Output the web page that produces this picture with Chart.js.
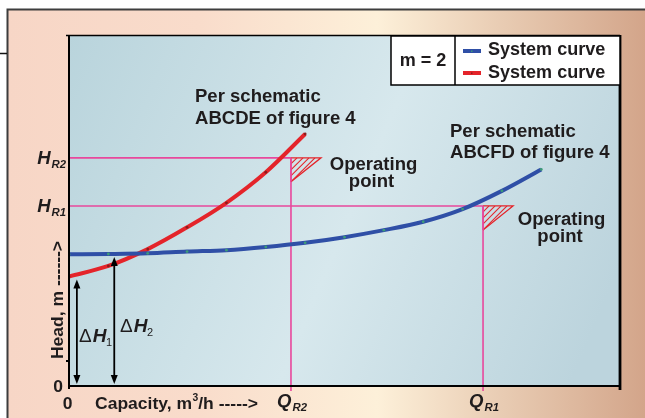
<!DOCTYPE html>
<html>
<head>
<meta charset="utf-8">
<title>System curves</title>
<script src="https://cdn.jsdelivr.net/npm/chart.js@4/dist/chart.umd.min.js"></script>
<style>
  html, body { margin: 0; padding: 0; background: #ffffff; overflow: hidden; }
  #wrap { width: 645px; height: 418px; }
</style>
</head>
<body>
<div id="wrap"><canvas id="c" width="645" height="418"></canvas></div>
<script>
// Capacity steps along the x axis (arbitrary units, 0 .. 14)
const capacitySteps = [0, 1, 2, 3, 4, 5, 6, 7, 8, 9, 10, 11, 12];
// Head of the system curve for schematic ABCFD (blue)
const headABCFD = [37.5, 37.6, 37.8, 38.3, 38.7, 39.6, 40.8, 42.4, 44.4, 46.8, 50.4, 55.6, 61.7];
// Head of the system curve for schematic ABCDE (red)
const headABCDE = [31.2, 34.2, 39.0, 45.2, 52.2, 60.9, 71.8];
// Operating points: heads H_R1, H_R2 and capacities Q_R1, Q_R2
const operatingNames = ['R1', 'R2'];
const operatingHeads = [51.3, 65.0];
const operatingFlows = [10.52, 5.64];
// Static head arrows ΔH1 (to the red curve) and ΔH2 (to the blue curve)
const deltaNames = ['1', '2'];
const deltaFlows = [0.2, 1.15];
const deltaHeads = [headABCDE[0], headABCFD[1]];
// Axis ranges
const xRange = [0, 14];
const yRange = [0, 100];
const seriesLabels = ['System curve', 'System curve'];

const BLUE = '#2f4fa6';
const RED = '#e4242a';
const PINK = '#e8489c';
const INK = '#1f1c1d';
const FONT = '"Liberation Sans", Arial, Helvetica, sans-serif';

function txt(ctx, str, x, y, o) {
  o = o || {};
  const size = o.size || 18;
  const stretch = o.stretch || 1.03;
  ctx.save();
  ctx.font = (o.style || '') + ' ' + (o.weight || 'bold') + ' ' + size + 'px ' + FONT;
  ctx.fillStyle = o.color || INK;
  ctx.textBaseline = 'alphabetic';
  ctx.textAlign = 'left';
  const w = ctx.measureText(str).width * stretch;
  let x0 = x;
  if (o.align === 'center') x0 = x - w / 2;
  else if (o.align === 'right') x0 = x - w;
  ctx.translate(x0, y);
  ctx.scale(stretch, 1);
  ctx.fillText(str, 0, 0);
  ctx.restore();
  return w;
}
function measure(ctx, str, o) {
  ctx.save();
  ctx.font = (o.style || '') + ' ' + (o.weight || 'bold') + ' ' + o.size + 'px ' + FONT;
  const w = ctx.measureText(str).width * (o.stretch || 1.03);
  ctx.restore();
  return w;
}
// Symbol with italic subscript, e.g. H with R1
function subLabel(ctx, main, sub, x, y, align, mainSize) {
  const mo = { size: mainSize || 18, style: 'italic' };
  const so = { size: 11, style: 'italic' };
  const w = measure(ctx, main, mo) + 1 + measure(ctx, sub, so);
  let x0 = x;
  if (align === 'center') x0 = x - w / 2;
  else if (align === 'right') x0 = x - w;
  const mw = txt(ctx, main, x0, y, mo);
  txt(ctx, sub, x0 + mw + 1, y + 4, so);
}
function arrowHead(ctx, x, y, dir) {
  ctx.beginPath();
  ctx.moveTo(x, y);
  ctx.lineTo(x - 3.5, y - dir * 9);
  ctx.lineTo(x + 3.5, y - dir * 9);
  ctx.closePath();
  ctx.fill();
}

const decor = {
  id: 'decor',
  beforeDraw(chart) {
    const ctx = chart.ctx;
    const a = chart.chartArea;
    ctx.save();
    ctx.fillStyle = '#ffffff';
    ctx.fillRect(0, 0, chart.width, chart.height);
    // outer panel
    const g = ctx.createLinearGradient(8, 0, chart.width, 0);
    g.addColorStop(0, '#f7d6c6');
    g.addColorStop(0.3, '#f9dccb');
    g.addColorStop(0.58, '#fdf0d9');
    g.addColorStop(0.78, '#e8cbb2');
    g.addColorStop(1, '#d3a58a');
    ctx.fillStyle = g;
    ctx.fillRect(8, 10, chart.width - 8, chart.height - 10);
    ctx.strokeStyle = '#3d3d3d';
    ctx.lineWidth = 2;
    ctx.beginPath();
    ctx.moveTo(7.5, chart.height);
    ctx.lineTo(7.5, 9.5);
    ctx.lineTo(chart.width, 9.5);
    ctx.stroke();
    ctx.lineWidth = 1.5;
    ctx.strokeStyle = '#111';
    ctx.beginPath();
    ctx.moveTo(0, 53.5);
    ctx.lineTo(7, 53.5);
    ctx.stroke();
    // plot area
    const pg = ctx.createLinearGradient(a.left, a.top, a.right, a.bottom - 120);
    pg.addColorStop(0, '#b9d4dc');
    pg.addColorStop(0.55, '#d7e8ed');
    pg.addColorStop(1, '#bcd4dd');
    ctx.fillStyle = pg;
    ctx.fillRect(a.left, a.top, a.right - a.left, a.bottom - a.top);
    ctx.restore();
  },
  beforeDatasetsDraw(chart) {
    const ctx = chart.ctx;
    const a = chart.chartArea;
    const xs = chart.scales.x, ys = chart.scales.y;
    ctx.save();
    operatingHeads.forEach((h, i) => {
      const px = xs.getPixelForValue(operatingFlows[i]);
      const py = ys.getPixelForValue(h);
      ctx.strokeStyle = PINK;
      ctx.lineWidth = 1.6;
      ctx.beginPath();
      ctx.moveTo(a.left, py);
      ctx.lineTo(px, py);
      ctx.moveTo(px, py);
      ctx.lineTo(px, a.bottom + 5);
      ctx.stroke();
      // hatched operating-point wedge
      const w = 30, hh = 24;
      ctx.save();
      ctx.beginPath();
      ctx.moveTo(px, py);
      ctx.lineTo(px + w, py);
      ctx.lineTo(px, py + hh);
      ctx.closePath();
      ctx.clip();
      ctx.strokeStyle = RED;
      ctx.lineWidth = 1.1;
      for (let k = -hh; k < w + hh; k += 6) {
        ctx.beginPath();
        ctx.moveTo(px + k, py + hh);
        ctx.lineTo(px + k + hh, py);
        ctx.stroke();
      }
      ctx.restore();
      ctx.strokeStyle = RED;
      ctx.lineWidth = 1.3;
      ctx.beginPath();
      ctx.moveTo(px, py);
      ctx.lineTo(px + w, py);
      ctx.lineTo(px, py + hh);
      ctx.stroke();
      ctx.strokeStyle = PINK;
      ctx.lineWidth = 1.6;
      ctx.beginPath();
      ctx.moveTo(px, py);
      ctx.lineTo(px, py + hh);
      ctx.stroke();
    });
    ctx.restore();
  },
  afterDatasetsDraw(chart) {
    const ctx = chart.ctx;
    const a = chart.chartArea;
    const xs = chart.scales.x, ys = chart.scales.y;
    ctx.save();
    // frame and axes
    ctx.strokeStyle = '#000';
    ctx.lineWidth = 1.5;
    ctx.beginPath();
    ctx.moveTo(a.left - 3, a.top + 0.5);
    ctx.lineTo(a.right, a.top + 0.5);
    ctx.stroke();
    ctx.lineWidth = 2.8;
    ctx.beginPath();
    ctx.moveTo(a.right, a.top);
    ctx.lineTo(a.right, a.bottom + 4);
    ctx.stroke();
    ctx.lineWidth = 2;
    ctx.beginPath();
    ctx.moveTo(a.left, a.top);
    ctx.lineTo(a.left, a.bottom + 3);
    ctx.moveTo(a.left, a.bottom);
    ctx.lineTo(a.right, a.bottom);
    ctx.moveTo(a.left - 3, a.bottom - 25);
    ctx.lineTo(a.left, a.bottom - 25);
    ctx.stroke();

    // ΔH arrows
    ctx.strokeStyle = '#000';
    ctx.fillStyle = '#000';
    ctx.lineWidth = 1.8;
    deltaFlows.forEach((q, i) => {
      const px = xs.getPixelForValue(q);
      const top = ys.getPixelForValue(deltaHeads[i]) + 3;
      const bot = a.bottom - 2;
      ctx.beginPath();
      ctx.moveTo(px, top + 6);
      ctx.lineTo(px, bot - 6);
      ctx.stroke();
      arrowHead(ctx, px, top, -1);
      arrowHead(ctx, px, bot, 1);
    });
    // ΔH labels
    const dPos = [[79, 342], [120, 332]];
    deltaNames.forEach((n, i) => {
      const [x, y] = dPos[i];
      const w1 = txt(ctx, '\u0394', x, y, { size: 19, weight: 'normal', stretch: 1.0 });
      const w2 = txt(ctx, 'H', x + w1 + 1, y, { size: 19, style: 'italic', stretch: 1.0 });
      txt(ctx, n, x + w1 + w2 + 0.5, y + 4, { size: 11, weight: 'normal', stretch: 1.0 });
    });

    // axis labels
    txt(ctx, '0', 58, 392, { align: 'center', size: 17 });
    txt(ctx, '0', 67.5, 409, { align: 'center', size: 17 });
    let cx = 95;
    cx += txt(ctx, 'Capacity, m', cx, 409, { size: 17 });
    cx += txt(ctx, '3', cx + 0.5, 401, { size: 10 }) + 0.5;
    txt(ctx, '/h ----->', cx, 409, { size: 17 });
    ctx.save();
    ctx.translate(62.5, 300);
    ctx.rotate(-Math.PI / 2);
    txt(ctx, 'Head, m ------>', 0, 0, { size: 17, align: 'center' });
    ctx.restore();
    operatingNames.forEach((n, i) => {
      const py = ys.getPixelForValue(operatingHeads[i]);
      subLabel(ctx, 'H', n, 66, py + 6, 'right', 18);
      const px = xs.getPixelForValue(operatingFlows[i]);
      subLabel(ctx, 'Q', n, px + 1, 407, 'center', 18);
    });

    // annotations
    txt(ctx, 'Per schematic', 195, 102);
    txt(ctx, 'ABCDE of figure 4', 195, 123.5);
    txt(ctx, 'Per schematic', 450, 137);
    txt(ctx, 'ABCFD of figure 4', 450, 158);
    txt(ctx, 'Operating', 373.5, 170, { align: 'center' });
    txt(ctx, 'point', 371.5, 186.5, { align: 'center' });
    txt(ctx, 'Operating', 561.5, 225, { align: 'center' });
    txt(ctx, 'point', 560, 241.5, { align: 'center' });

    // legend box
    const lx = 391, ly = 36, lw = a.right - lx, lh = 49, div = 455;
    ctx.fillStyle = '#ffffff';
    ctx.fillRect(lx, ly, lw, lh);
    ctx.strokeStyle = '#000';
    ctx.lineWidth = 1.5;
    ctx.strokeRect(lx, ly, lw, lh);
    ctx.beginPath();
    ctx.moveTo(div, ly);
    ctx.lineTo(div, ly + lh);
    ctx.stroke();
    txt(ctx, 'm = 2', (lx + div) / 2, 66, { align: 'center', size: 17.5 });
    chart.data.datasets.forEach((ds, i) => {
      const ry = [51, 73][i];
      ctx.fillStyle = ds.borderColor;
      ctx.fillRect(463, ry - 2, 18, 4);
      ctx.fillStyle = ds.pointBackgroundColor;
      ctx.fillRect(471, ry - 0.5, 1.5, 1.5);
      txt(ctx, ds.label, 488, [55, 77.5][i], { size: 17.5 });
    });
    ctx.restore();
  }
};

const pts = (ys) => ys.map((y, i) => ({ x: capacitySteps[i], y: y }));

new Chart(document.getElementById('c'), {
  type: 'line',
  data: {
    datasets: [
      {
        label: seriesLabels[0],
        data: pts(headABCFD),
        borderColor: BLUE,
        borderWidth: 4,
        pointRadius: 1.4,
        pointBorderWidth: 0,
        pointBackgroundColor: '#3c9b78',
        cubicInterpolationMode: 'monotone',
        fill: false
      },
      {
        label: seriesLabels[1],
        data: pts(headABCDE),
        borderColor: RED,
        borderWidth: 4,
        pointRadius: 1.4,
        pointBorderWidth: 0,
        pointBackgroundColor: '#8d1b1b',
        cubicInterpolationMode: 'monotone',
        fill: false
      }
    ]
  },
  options: {
    responsive: false,
    devicePixelRatio: 1,
    animation: false,
    layout: { padding: { left: 69, right: 25, top: 35, bottom: 32 } },
    scales: {
      x: { type: 'linear', display: false, min: xRange[0], max: xRange[1] },
      y: { type: 'linear', display: false, min: yRange[0], max: yRange[1] }
    },
    plugins: {
      legend: { display: false },
      tooltip: { enabled: false }
    }
  },
  plugins: [decor]
});
</script>
</body>
</html>
